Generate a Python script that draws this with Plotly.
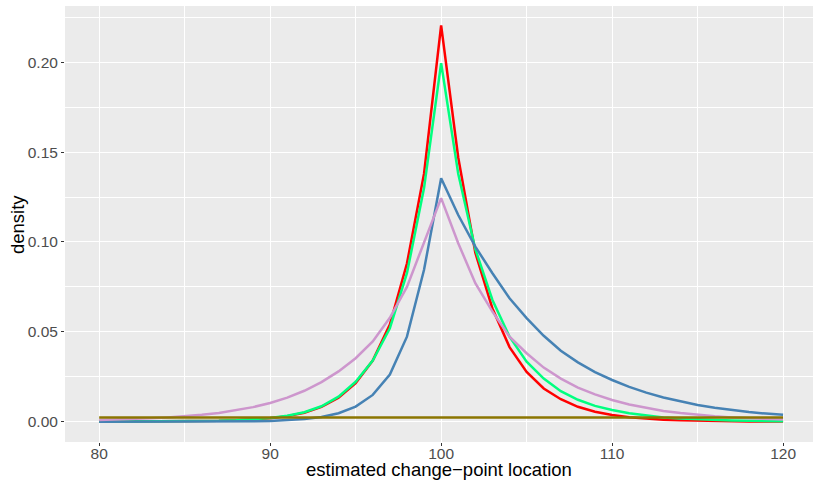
import plotly.graph_objects as go

x = list(range(80, 121))

red = [0.00002, 0.00003, 0.00005, 0.00008, 0.00012, 0.00019, 0.0003, 0.00047, 0.00075, 0.0012,
       0.0019, 0.0031, 0.0050, 0.0082, 0.0133, 0.0215, 0.034, 0.054, 0.088, 0.138,
       0.2205,
       0.147, 0.094, 0.063, 0.0415, 0.0277, 0.0185, 0.0125, 0.0083, 0.0055, 0.0037,
       0.0025, 0.0017, 0.0011, 0.00075, 0.0005, 0.00033, 0.00022, 0.00015, 0.0001, 0.00007]

green = [0.00002, 0.00003, 0.00005, 0.00008, 0.00013, 0.0002, 0.0003, 0.0005, 0.0008, 0.0013,
         0.0021, 0.0033, 0.0053, 0.0086, 0.0139, 0.0222, 0.034, 0.052, 0.0826, 0.130,
         0.1995,
         0.138, 0.096, 0.0677, 0.0473, 0.0334, 0.0240, 0.0170, 0.0122, 0.0088, 0.0065,
         0.0047, 0.0034, 0.0024, 0.0018, 0.0013, 0.0009, 0.00065, 0.00047, 0.00034, 0.00025]

blue = [0.0, 0.0, 0.00001, 0.00001, 0.00002, 0.00003, 0.00005, 0.00008, 0.00014, 0.00025,
        0.00045, 0.0008, 0.0015, 0.0026, 0.0047, 0.0084, 0.0149, 0.0262, 0.0473, 0.0845,
        0.1355,
        0.115, 0.0974, 0.0826, 0.0687, 0.0576, 0.0478, 0.0395, 0.0330, 0.0276, 0.0232,
        0.0194, 0.0162, 0.0135, 0.0112, 0.0093, 0.0078, 0.0065, 0.0054, 0.0045, 0.0038]

plum = [0.0010, 0.0012, 0.0015, 0.0019, 0.0024, 0.0030, 0.0038, 0.0049, 0.0063, 0.0081,
        0.0104, 0.0134, 0.0172, 0.0220, 0.0280, 0.0353, 0.0447, 0.0578, 0.0750, 0.100,
        0.1244,
        0.0993, 0.0771, 0.0613, 0.0473, 0.0381, 0.0301, 0.0240, 0.0190, 0.0152, 0.0121,
        0.0096, 0.0076, 0.0060, 0.0048, 0.0038, 0.0030, 0.0024, 0.0019, 0.0015, 0.0012]

olive = [0.0024] * 41

series = [
    ("red", red, "#FF0000"),
    ("green", green, "#00FF7F"),
    ("blue", blue, "#4682B4"),
    ("plum", plum, "#CD96CD"),
    ("olive", olive, "#8B7500"),
]

x_ticks = [80, 90, 100, 110, 120]
y_ticks = [0.0, 0.05, 0.10, 0.15, 0.20]
x_title = "estimated change\u2212point location"
y_title = "density"

fig = go.Figure()
for name, vals, col in series:
    fig.add_trace(go.Scatter(x=x, y=vals, mode="lines", name=name,
                             line=dict(color=col, width=2.5), showlegend=False))

font_family = "Liberation Sans, Arial, sans-serif"
fig.update_layout(
    width=813, height=480,
    margin=dict(l=65, r=0, t=6, b=38, autoexpand=False),
    paper_bgcolor="white",
    plot_bgcolor="#EBEBEB",
    font=dict(family=font_family),
    showlegend=False,
)
fig.update_xaxes(
    automargin=False,
    range=[78.0, 121.75],
    tickvals=x_ticks,
    ticktext=[str(v) for v in x_ticks],
    ticks="outside", ticklen=3, tickwidth=1, tickcolor="#333333",
    tickfont=dict(size=15.5, color="#4D4D4D"),
    ticklabelstandoff=-6,
    gridcolor="white", gridwidth=1.2,
    minor=dict(dtick=5, tick0=80, showgrid=True, gridcolor="white", gridwidth=0.6, ticks=""),
    showline=False, zeroline=False,
)
fig.update_yaxes(
    automargin=False,
    range=[-0.0113, 0.2313],
    tickvals=y_ticks,
    ticktext=["%.2f" % v for v in y_ticks],
    ticks="outside", ticklen=3, tickwidth=1, tickcolor="#333333",
    tickfont=dict(size=15.5, color="#4D4D4D"),
    ticklabelstandoff=0,
    gridcolor="white", gridwidth=1.2,
    minor=dict(dtick=0.025, tick0=0, showgrid=True, gridcolor="white", gridwidth=0.6, ticks=""),
    showline=False, zeroline=False,
)
fig.add_annotation(text=x_title, xref="paper", yref="paper", x=0.5, y=(442 - 469.5) / 436,
                   xanchor="center", yanchor="middle", showarrow=False, borderpad=0,
                   font=dict(size=18.5, color="black"))
fig.add_annotation(text=y_title, xref="paper", yref="paper", x=(17 - 65) / 748, y=0.5,
                   xanchor="center", yanchor="middle", showarrow=False, textangle=-90,
                   font=dict(size=18.5, color="black"))

fig.write_html(
    "out.html",
    config={"displayModeBar": False},
    post_script="document.body.style.margin='0';document.body.style.padding='0';",
)
